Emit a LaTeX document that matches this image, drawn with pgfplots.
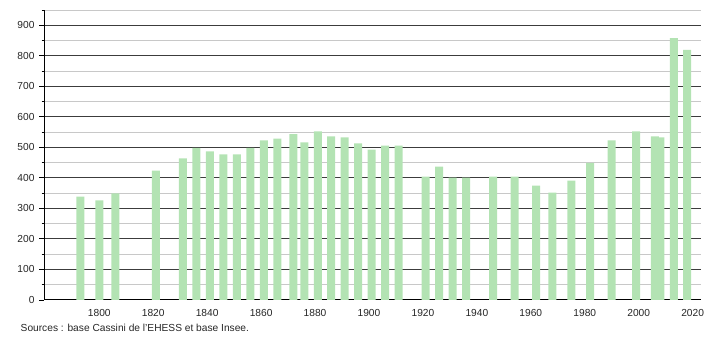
\documentclass[border=0pt]{standalone}
\usepackage{pgfplots}
\pgfplotsset{compat=1.18}
\usepackage{fontspec}
\setmainfont{Liberation Sans}
\definecolor{barg}{HTML}{B3E3B3}
\definecolor{majg}{HTML}{3C3C3C}
\definecolor{ming}{HTML}{C8C8C8}
\begin{document}
\begin{tikzpicture}[x=1pt,y=1pt]
\path[use as bounding box] (0,0) rectangle (710,340);
\begin{axis}[
  at={(44pt,40pt)}, anchor=origin,
  scale only axis, width=657pt, height=290pt,
  xmin=1779.5, xmax=2023.1, ymin=0, ymax=950,
  axis x line*=bottom, axis y line*=left,
  axis line style={-, black, line width=1pt},
  xtick={1800,1820,...,2020},
  xtick style={draw=none},
  ytick={0,100,...,900},
  minor ytick={50,150,...,950},
  tick align=outside,
  major tick length=5pt, minor tick length=2.5pt,
  ytick style={black, line width=0.9pt},
  ymajorgrids, yminorgrids,
  major grid style={majg, line width=1pt},
  minor grid style={ming, line width=0.9pt},
  /pgf/number format/assume math mode=true,
  /pgf/number format/1000 sep={},
  tick label style={font=\fontsize{10.2}{12}\selectfont, text=black!85},
  yticklabel style={xshift=-1pt},
  xticklabel style={yshift=-0.5pt},
  clip=false,
]
\addplot[ybar, bar width=8pt, fill=barg, draw=none] coordinates {
(1793,339) (1800,326) (1806,349) (1821,424) (1831,464) (1836,498)
(1841,487) (1846,477) (1851,477) (1856,498) (1861,523) (1866,529)
(1872,543) (1876,516) (1881,552) (1886,536) (1891,533) (1896,513)
(1901,493) (1906,506) (1911,506) (1921,404) (1926,437) (1931,401)
(1936,401) (1946,404) (1954,404) (1962,375) (1968,352) (1975,391)
(1982,449) (1990,523) (1999,552) (2006,536) (2008,533) (2013,858)
(2018,819)
};
\end{axis}
\node[anchor=base west, inner sep=0pt, font=\fontsize{10.2}{12}\selectfont, text=black!85] at (20.5,8) {Sources : base Cassini de l'EHESS et base Insee.};
\end{tikzpicture}
\end{document}
